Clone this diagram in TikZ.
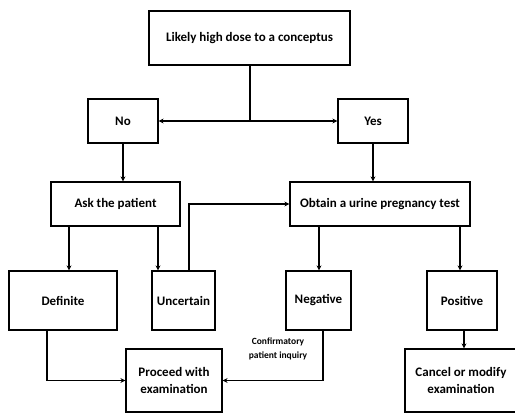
\documentclass[tikz,border=0pt]{standalone}
\usepackage{fontspec}
\setmainfont{Carlito}
\usetikzlibrary{arrows.meta,calc}
\tikzset{
  box/.style={draw=black, line width=1.2pt, fill=white, align=center, inner sep=2pt,
    font=\bfseries\fontsize{13}{17}\selectfont},
  arr/.style={line width=1.2pt, -{Stealth[length=5pt,width=5pt]}},
  lbl/.style={font=\bfseries\fontsize{9.5}{14}\selectfont, align=center}
}
\begin{document}
\begin{tikzpicture}[x=1pt,y=-1pt]
\useasboundingbox[fill=white] (0,0) rectangle (515,413);
\node[box, minimum width=201pt, minimum height=54pt] (top) at (249.5,38) {Likely high dose to a conceptus};
\node[box, minimum width=70pt, minimum height=44pt] (no) at (123,121) {No};
\node[box, minimum width=70pt, minimum height=44pt] (yes) at (373,121) {Yes};
\node[box, minimum width=129pt, minimum height=44pt] (ask) at (115.5,204) {Ask the patient};
\node[box, minimum width=180pt, minimum height=44pt] (obtain) at (380,204) {Obtain a urine pregnancy test};
\node[box, minimum width=108pt, minimum height=59pt] (definite) at (63,300.5) {Definite};
\node[box, minimum width=63pt, minimum height=59pt] (uncertain) at (183.5,300.5) {Uncertain};
\node[box, minimum width=65pt, minimum height=59pt] (negative) at (318.5,300.5) {Negative};
\node[box, minimum width=70pt, minimum height=59pt] (positive) at (462,300.5) {Positive};
\node[box, minimum width=96pt, minimum height=63pt] (proceed) at (174,380.5) {Proceed with\\examination};
\node[box, minimum width=112pt, minimum height=63pt] (cancel) at (461,380.5) {Cancel or modify\\examination};
\node[lbl] (conf) at (278,348.5) {Confirmatory\\patient inquiry};

\coordinate (j) at (top.south |- no.east);
\draw[line width=2pt] (top.south) -- (j);
\draw[line width=1.2pt, {Stealth[length=5pt,width=5pt]}-{Stealth[length=5pt,width=5pt]}] (no.east) -- (yes.west);
\draw[arr] (no.south) -- (no.south |- ask.north);
\draw[arr] (yes.south) -- (yes.south |- obtain.north);
\draw[arr] (ask.south -| 69,0) -- (definite.north -| 69,0);
\draw[arr] (ask.south -| 158,0) -- (uncertain.north -| 158,0);
\draw[arr] (uncertain.north -| 189,0) |- (obtain.west);
\draw[arr] (obtain.south -| 319,0) -- (negative.north -| 319,0);
\draw[arr] (obtain.south -| 460,0) -- (positive.north -| 460,0);
\draw[arr] (definite.south -| 47,0) |- (proceed.west);
\draw[arr] (negative.south -| 323,0) |- (proceed.east);
\draw[arr] (positive.south -| 464,0) -- (cancel.north -| 464,0);
\end{tikzpicture}
\end{document}
